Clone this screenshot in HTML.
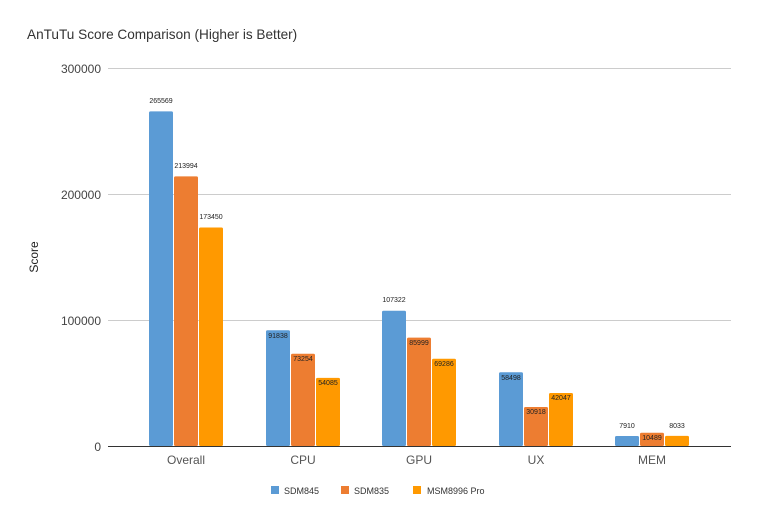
<!DOCTYPE html><html><head><style>body{margin:0;background:#fff}</style></head><body>
<svg width="757" height="523" xmlns="http://www.w3.org/2000/svg" font-family="Liberation Sans, sans-serif">
<rect width="757" height="523" fill="#fff"/>
<text x="27" y="39" font-size="13.6" fill="#333">AnTuTu Score Comparison (Higher is Better)</text>
<g stroke="#ccc" stroke-width="1">
<line x1="108" y1="68.5" x2="731" y2="68.5"/><line x1="108" y1="194.5" x2="731" y2="194.5"/><line x1="108" y1="320.5" x2="731" y2="320.5"/>
</g>
<g font-size="12" fill="#444" text-anchor="end">
<text x="101" y="73">300000</text><text x="101" y="199">200000</text><text x="101" y="325">100000</text><text x="101" y="451">0</text>
</g>
<text transform="translate(38,257) rotate(-90)" font-size="12" fill="#222" text-anchor="middle">Score</text>
<g>
<rect x="149" y="111.4" width="24" height="334.6" rx="1.5" fill="#5b9bd5"/>
<rect x="174" y="176.4" width="24" height="269.6" rx="1.5" fill="#ed7d31"/>
<rect x="199" y="227.5" width="24" height="218.5" rx="1.5" fill="#ff9900"/>
<rect x="266" y="330.3" width="24" height="115.7" rx="1.5" fill="#5b9bd5"/>
<rect x="291" y="353.7" width="24" height="92.3" rx="1.5" fill="#ed7d31"/>
<rect x="316" y="377.9" width="24" height="68.1" rx="1.5" fill="#ff9900"/>
<rect x="382" y="310.8" width="24" height="135.2" rx="1.5" fill="#5b9bd5"/>
<rect x="407" y="337.6" width="24" height="108.4" rx="1.5" fill="#ed7d31"/>
<rect x="432" y="358.7" width="24" height="87.3" rx="1.5" fill="#ff9900"/>
<rect x="499" y="372.3" width="24" height="73.7" rx="1.5" fill="#5b9bd5"/>
<rect x="524" y="407" width="24" height="39" rx="1.5" fill="#ed7d31"/>
<rect x="549" y="393" width="24" height="53" rx="1.5" fill="#ff9900"/>
<rect x="615" y="436" width="24" height="10" rx="1.5" fill="#5b9bd5"/>
<rect x="640" y="432.8" width="24" height="13.2" rx="1.5" fill="#ed7d31"/>
<rect x="665" y="435.9" width="24" height="10.1" rx="1.5" fill="#ff9900"/>
</g>
<line x1="108" y1="446.5" x2="731" y2="446.5" stroke="#333" stroke-width="1"/>
<g font-size="7" fill="#222" text-anchor="middle">
<text x="161" y="103">265569</text><text x="186" y="168">213994</text><text x="211" y="219">173450</text>
<text x="278" y="338">91838</text><text x="303" y="361">73254</text><text x="328" y="385">54085</text>
<text x="394" y="302">107322</text><text x="419" y="345">85999</text><text x="444" y="366">69286</text>
<text x="511" y="380">58498</text><text x="536" y="414">30918</text><text x="561" y="400">42047</text>
<text x="627" y="428">7910</text><text x="652" y="440">10489</text><text x="677" y="428">8033</text>
</g>
<g font-size="12" fill="#555" text-anchor="middle">
<text x="186" y="464">Overall</text><text x="303" y="464">CPU</text><text x="419" y="464">GPU</text><text x="536" y="464">UX</text><text x="652" y="464">MEM</text>
</g>
<g font-size="9" fill="#333">
<rect x="271" y="486" width="8" height="8" fill="#5b9bd5"/><text x="284" y="494">SDM845</text>
<rect x="341" y="486" width="8" height="8" fill="#ed7d31"/><text x="354" y="494">SDM835</text>
<rect x="413" y="486" width="8" height="8" fill="#ff9900"/><text x="427" y="494">MSM8996 Pro</text>
</g>
</svg></body></html>
